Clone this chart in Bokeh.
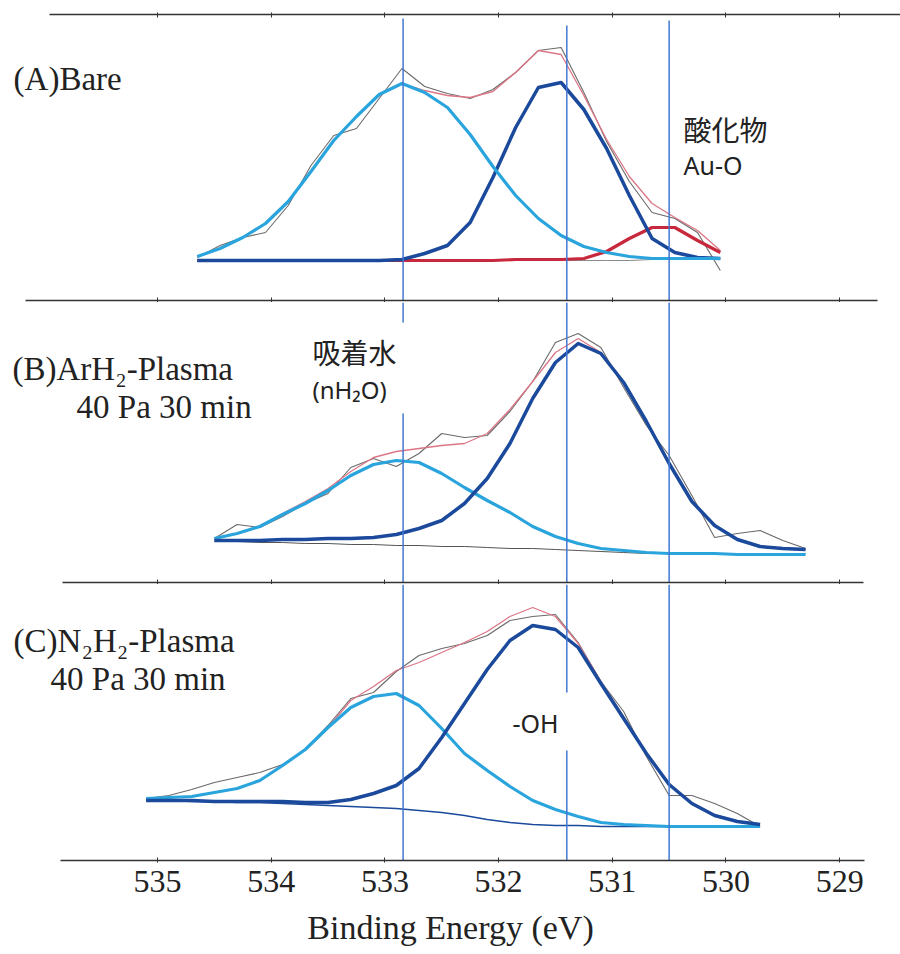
from bokeh.plotting import figure
from bokeh.layouts import column
from bokeh.models import Range1d, FixedTicker, LinearAxis, Label
from bokeh.embed import file_html
from bokeh.resources import INLINE

# ---------------- data (intensities in arbitrary units) ----------------
TICKS = [535, 534, 533, 532, 531, 530, 529]
PEAK_LINES = [532.84, 531.40, 530.50]

# (A) Bare
E_A = [534.65, 534.45, 534.25, 534.05, 533.85, 533.65, 533.45, 533.25, 533.05, 532.85,
       532.65, 532.45, 532.25, 532.05, 531.85, 531.65, 531.45, 531.25, 531.05, 530.85,
       530.65, 530.45, 530.25, 530.05]
A_data = [43, 55, 63, 68, 95, 135, 165, 172, 202, 232, 214, 207, 202, 211, 228, 250, 253, 208,
          159, 119, 88, 82, 68, 30]
A_fit = [44, 52, 63, 77, 99, 129, 160, 184, 206, 217, 210, 205, 203, 209, 228, 250, 246, 205,
         161, 124, 97, 83, 70, 50]
A_h2o = [44, 52, 63, 77, 99, 129, 160, 184, 206, 217, 208, 193, 166, 134, 105, 82, 65, 54,
         48, 44, 42, 42, 42, 42]
A_oh = [40, 40, 40, 40, 40, 40, 40, 40, 40, 41, 47, 55, 78, 123, 173, 213, 218, 191,
        152, 105, 62, 48, 43, 42]
A_auo = [40, 40, 40, 40, 40, 40, 40, 40, 40, 40, 40, 40, 40, 40, 41, 41, 41, 42,
         49, 62, 73, 73, 60, 48]
A_bg = [40, 40, 40, 40, 40, 40, 40, 40, 40, 40, 40, 40, 40, 40, 40, 40, 40, 40,
        40, 40, 41, 41, 42, 42]

# (B) ArH2-Plasma 40 Pa 30 min
E_B = [534.5, 534.3, 534.1, 533.9, 533.7, 533.5, 533.3, 533.1, 532.9, 532.7, 532.5, 532.3,
       532.1, 531.9, 531.7, 531.5, 531.3, 531.1, 530.9, 530.7, 530.5, 530.3, 530.1, 529.9,
       529.7, 529.5, 529.3]
B_data = [44, 58, 55, 66, 79, 89, 115, 124, 116, 129, 149, 145, 147, 171, 201, 240, 249, 235,
          195, 157, 127, 87, 45, 49, 52, 42, 34]
B_fit = [44, 49, 56, 69, 81, 94, 111, 125, 131, 134, 137, 139, 149, 173, 201, 230, 244, 230,
         200, 161, 119, 81, 57, 43, 36, 34, 33]
B_h2o = [44, 49, 56, 68, 79, 92, 107, 118, 122, 120, 109, 95, 82, 70, 56, 46, 39, 34,
         32, 30, 29, 29, 29, 28, 28, 28, 28]
B_oh = [42, 42, 42, 43, 43, 44, 44, 45, 48, 54, 62, 79, 104, 139, 184, 220, 239, 229,
        200, 161, 119, 81, 57, 43, 36, 34, 33]
B_bg = [41, 41, 40, 40, 39, 39, 38, 38, 37, 37, 36, 36, 35, 34, 34, 33, 32, 31,
        30, 29, 29, 29, 29, 29, 29, 29, 29]

# (C) N2H2-Plasma 40 Pa 30 min
E_C = [535.1, 534.9, 534.7, 534.5, 534.3, 534.1, 533.9, 533.7, 533.5, 533.3, 533.1, 532.9,
       532.7, 532.5, 532.3, 532.1, 531.9, 531.7, 531.5, 531.3, 531.1, 530.9, 530.7, 530.5,
       530.3, 530.1, 529.9, 529.7]
C_data = [62, 65, 71, 78, 83, 88, 96, 111, 135, 162, 168, 189, 205, 212, 217, 225, 240, 244,
          246, 218, 179, 149, 104, 65, 65, 57, 47, 34]
C_fit = [62, 63, 64, 68, 72, 80, 95, 111, 133, 160, 174, 190, 198, 208, 218, 229, 244, 253,
         244, 217, 179, 144, 108, 77, 58, 46, 39, 36]
C_h2o = [62, 63, 64, 68, 72, 80, 95, 111, 133, 153, 164, 167, 155, 132, 107, 90, 74, 60,
         51, 44, 38, 36, 35, 34, 34, 34, 34, 34]
C_oh = [60, 60, 60, 59, 59, 59, 59, 58, 58, 61, 67, 75, 92, 123, 157, 191, 220, 235,
        231, 213, 177, 142, 107, 76, 57, 45, 39, 36]
C_bg = [60, 60, 59, 59, 58, 58, 57, 56, 55, 54, 53, 52, 50, 48, 45, 41, 38, 36,
        35, 35, 34, 34, 34, 34, 34, 34, 34, 34]

# ---------------- styling ----------------
CYAN = "#2aa4dc"
NAVY = "#1b4a9c"
RED = "#c8283c"
PINK = "#dc7686"
GRAY = "#6a6a6a"
VLINE = "#4277d2"
INK = "#222222"
SERIF = "Liberation Serif"
X0, X1 = 536.381, 528.465


def hidden_axis(bounds):
    # separator line: ticks only (as minor ticks), no labels
    return LinearAxis(ticker=FixedTicker(ticks=[], minor_ticks=TICKS), bounds=bounds,
                      axis_line_color="#333333", axis_line_width=1.3,
                      major_tick_line_color=None,
                      minor_tick_line_color="#333333", minor_tick_in=3, minor_tick_out=2,
                      major_label_standoff=0)


def panel(frame_h, top, bottom):
    p = figure(frame_width=900, frame_height=frame_h,
               x_range=Range1d(X0, X1), y_range=Range1d(0, frame_h),
               output_backend="svg", toolbar_location=None,
               x_axis_location=None, y_axis_location=None,
               min_border_left=0, min_border_right=0,
               min_border_top=top, min_border_bottom=bottom,
               outline_line_color=None)
    p.xgrid.visible = False
    p.ygrid.visible = False
    return p


def draw(p, E, data, fit, bg, bg_color, bg_w, comps):
    p.line(E, data, line_color=GRAY, line_width=1.1)
    p.line(E, fit, line_color=PINK, line_width=1.3)
    p.line(E, bg, line_color=bg_color, line_width=bg_w)
    for ys, col, w in comps:
        p.line(E, ys, line_color=col, line_width=w, line_join="round")


def vseg(p, x, y0, y1):
    p.segment(x0=[x], y0=[y0], x1=[x], y1=[y1], line_color=VLINE, line_width=1.5)


def lab(p, x, y, text, size, font, align="left"):
    p.add_layout(Label(x=x, y=y, text=text, text_font=font, text_font_size=size,
                       text_color=INK, text_align=align, text_baseline="middle"))


# ---------------- panel A ----------------
pA = panel(286, 14, 0)
pA.add_layout(hidden_axis((535.95, X1)), "above")
pA.add_layout(hidden_axis((536.161, 528.668)), "below")
draw(pA, E_A, A_data, A_fit, A_bg, "#8a8a8a", 1.0,
     [(A_auo, RED, 3.2), (A_oh, NAVY, 3.5), (A_h2o, CYAN, 3.2)])
vseg(pA, PEAK_LINES[0], 0, 282)
vseg(pA, PEAK_LINES[1], 0, 275)
vseg(pA, PEAK_LINES[2], 0, 280)
lab(pA, 536.266, 222, "(A)Bare", "33px", SERIF)
lab(pA, 530.374, 172, "酸化物", "28px", "Noto Sans CJK JP")
lab(pA, 530.374, 136, "Au-O", "25px", "Noto Sans")

# ---------------- panel B ----------------
pB = panel(280, 0, 0)
pB.add_layout(hidden_axis((535.836, 528.791)), "below")
draw(pB, E_B, B_data, B_fit, B_bg, "#555555", 1.0,
     [(B_h2o, CYAN, 3.2), (B_oh, NAVY, 3.5)])
vseg(pB, PEAK_LINES[0], 260, 280)
vseg(pB, PEAK_LINES[0], 0, 169)
vseg(pB, PEAK_LINES[1], 0, 280)
vseg(pB, PEAK_LINES[2], 0, 280)
lab(pB, 536.275, 214, "(B)ArH₂-Plasma", "33px", SERIF)
lab(pB, 535.712, 176, "40 Pa 30 min", "33px", SERIF)
lab(pB, 533.637, 231, "吸着水", "28px", "Noto Sans CJK JP")
lab(pB, 533.637, 193, "(nH₂O)", "24px", "Noto Sans")

# ---------------- panel C ----------------
pC = panel(276, 0, 94)
ax = LinearAxis(ticker=FixedTicker(ticks=TICKS), bounds=(535.853, 528.782),
                axis_line_color="#333333", axis_line_width=1.3,
                major_tick_line_color="#333333", major_tick_in=3, major_tick_out=2,
                minor_tick_line_color=None,
                major_label_text_font=SERIF, major_label_text_font_size="32px",
                major_label_text_color=INK, major_label_standoff=8,
                axis_label="Binding Energy (eV)", axis_label_text_font=SERIF,
                axis_label_text_font_size="34px", axis_label_text_font_style="normal",
                axis_label_text_color=INK, axis_label_standoff=14)
pC.add_layout(ax, "below")
draw(pC, E_C, C_data, C_fit, C_bg, NAVY, 1.6,
     [(C_h2o, CYAN, 3.2), (C_oh, NAVY, 3.5)])
vseg(pC, PEAK_LINES[0], 0, 276)
vseg(pC, PEAK_LINES[1], 0, 110)
vseg(pC, PEAK_LINES[1], 168, 276)
vseg(pC, PEAK_LINES[2], 0, 276)
lab(pC, 536.266, 220, "(C)N₂H₂-Plasma", "33px", SERIF)
lab(pC, 535.941, 182, "40 Pa 30 min", "33px", SERIF)
lab(pC, 531.675, 138, "-OH", "25px", "Noto Sans", align="center")

layout = column(pA, pB, pC, spacing=0)
open("out.html", "w").write(file_html(layout, INLINE))
